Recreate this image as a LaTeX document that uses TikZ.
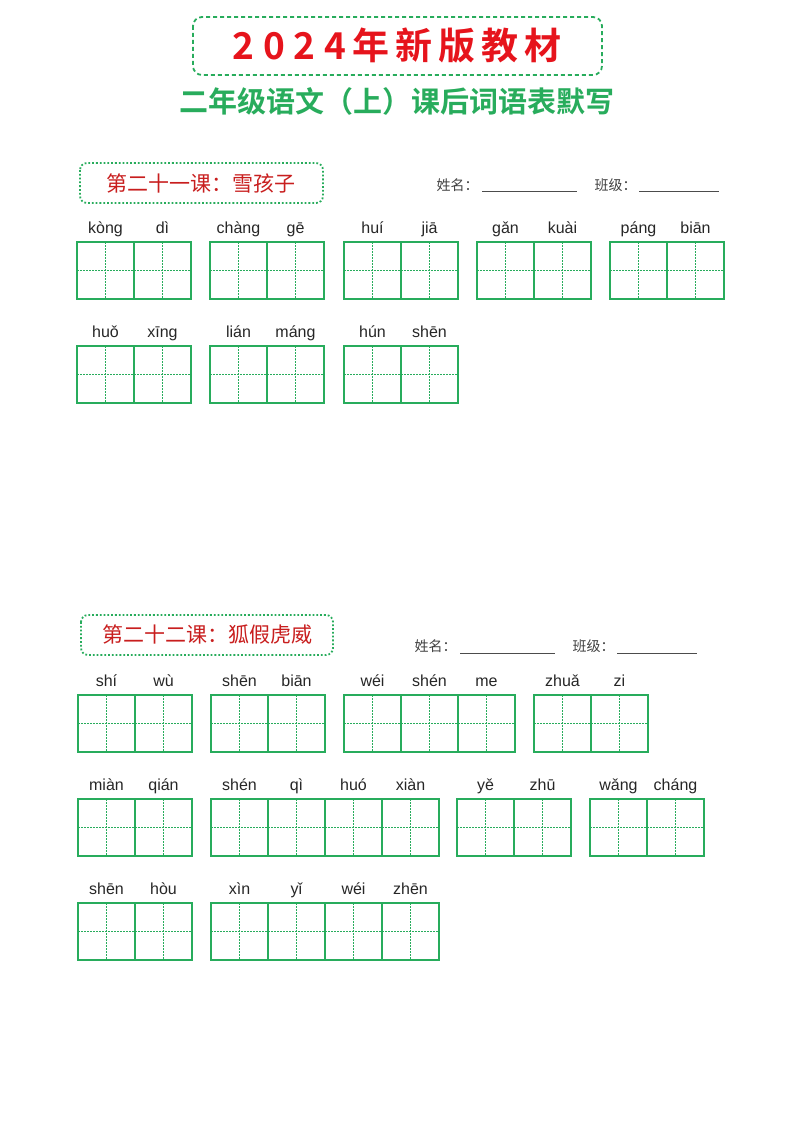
\documentclass[tikz,border=0pt]{standalone}
\usepackage{fontspec}
\setmainfont{Liberation Sans}
\newfontfamily\cjk{Noto Sans CJK SC}
\newfontfamily\cjkb{Noto Sans CJK SC Bold}
\definecolor{gr}{RGB}{40,172,92}
\definecolor{rd}{RGB}{230,20,28}
\definecolor{hd}{RGB}{200,30,30}
\tikzset{cell/.style={draw=gr,line width=1.1pt},
 guide/.style={draw=gr,dashed,dash pattern=on 1.5pt off 1.5pt,line width=0.5pt},
 py/.style={font=\fontsize{16}{16}\selectfont,text=black!85,anchor=base},
 hdr/.style={font=\cjk\fontsize{21}{21}\selectfont,text=hd},
 nm/.style={font=\cjk\fontsize{14}{14}\selectfont,text=black!75}}
\newcommand{\grp}[3]{% x, top y, list of pinyin
 \foreach \p [count=\i from 0] in {#3}{
  \pgfmathsetmacro{\xx}{#1+57*\i}
  \draw[guide] (\xx+28.5,#2) -- (\xx+28.5,#2+57) (\xx,#2+28.5) -- (\xx+57,#2+28.5);
  \draw[cell] (\xx,#2) rectangle (\xx+57,#2+57);
  \node[py] at (\xx+28.5,#2-9) {\p};
 }}
\begin{document}
\begin{tikzpicture}[x=1pt,y=-1pt]
\useasboundingbox (0,0) rectangle (800,1132);
\draw[gr,line width=1.8pt,dashed,dash pattern=on 4pt off 3pt,rounded corners=9pt] (193,17) rectangle (602,75);
\node[text=rd,font=\cjkb\fontsize{37}{37}\selectfont] (t) at (397,46) {2\hspace{9pt}0\hspace{9pt}2\hspace{9pt}4\hspace{6pt}年\hspace{6pt}新\hspace{6pt}版\hspace{6pt}教\hspace{6pt}材};
\node[text=gr,font=\cjkb\fontsize{29}{29}\selectfont] (s) at (397,101) {二年级语文（上）课后词语表默写};
% section 1
\draw[gr,line width=1.8pt,dotted,rounded corners=7pt] (80,163) rectangle (323,203);
\node[hdr] (h1) at (201,183) {第二十一课：雪孩子};
\node[nm,anchor=base west] (n1) at (433,190) {姓名：};
\draw[black!70,line width=0.6pt] (482,191) -- (577,191);
\node[nm,anchor=base west] (c1) at (591,190) {班级：};
\draw[black!70,line width=0.6pt] (639,191) -- (719,191);
\grp{77}{242}{kòng,dì}
\grp{210}{242}{chàng,gē}
\grp{344}{242}{huí,jiā}
\grp{477}{242}{gǎn,kuài}
\grp{610}{242}{páng,biān}
\grp{77}{346}{huǒ,xīng}
\grp{210}{346}{lián,máng}
\grp{344}{346}{hún,shēn}
% section 2
\draw[gr,line width=1.8pt,dotted,rounded corners=7pt] (81,615) rectangle (333,655);
\node[hdr] (h2) at (207,634) {第二十二课：狐假虎威};
\node[nm,anchor=base west] (n2) at (411,651) {姓名：};
\draw[black!70,line width=0.6pt] (460,653) -- (555,653);
\node[nm,anchor=base west] (c2) at (569,651) {班级：};
\draw[black!70,line width=0.6pt] (617,653) -- (697,653);
\grp{78}{695}{shí,wù}
\grp{211}{695}{shēn,biān}
\grp{344}{695}{wéi,shén,me}
\grp{534}{695}{zhuǎ,zi}
\grp{78}{799}{miàn,qián}
\grp{211}{799}{shén,qì,huó,xiàn}
\grp{457}{799}{yě,zhū}
\grp{590}{799}{wǎng,cháng}
\grp{78}{903}{shēn,hòu}
\grp{211}{903}{xìn,yǐ,wéi,zhēn}
\end{tikzpicture}
\end{document}
